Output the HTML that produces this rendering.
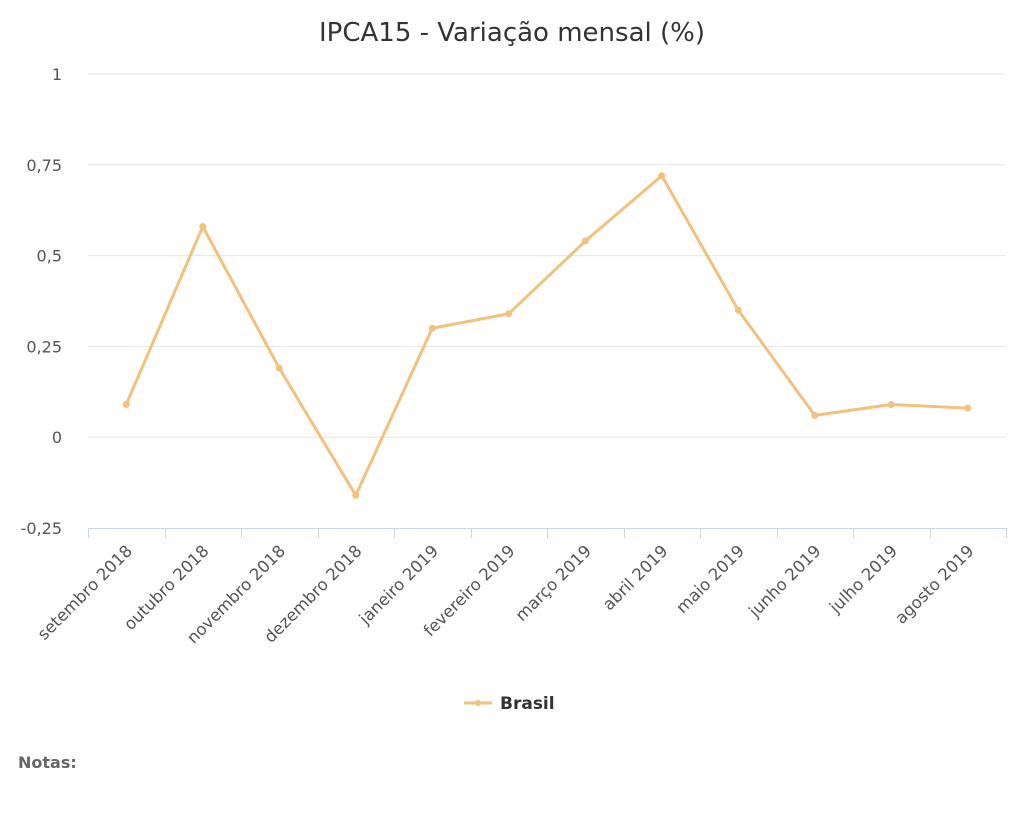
<!DOCTYPE html>
<html><head><meta charset="utf-8"><style>
body{margin:0;background:#fff;width:1024px;height:827px;overflow:hidden;font-family:"DejaVu Sans","Liberation Sans",sans-serif;}
</style></head><body>
<svg width="1024" height="827">
<text x="512" y="41" text-anchor="middle" font-size="26" fill="#333">IPCA15 - Variação mensal (%)</text>
<g id="grid"></g><g id="xaxis"></g><g id="series"></g>
<g>
<line x1="464" y1="703" x2="492" y2="703" stroke="#f1c27d" stroke-width="3"/>
<circle cx="478" cy="703" r="3" fill="#f1c27d"/>
<text x="500" y="709" font-size="17" font-weight="bold" fill="#333">Brasil</text>
</g>
<text x="18" y="768" font-size="16" font-weight="bold" fill="#666">Notas:</text>
</svg>
<script>
const categories=["setembro 2018","outubro 2018","novembro 2018","dezembro 2018","janeiro 2019","fevereiro 2019","março 2019","abril 2019","maio 2019","junho 2019","julho 2019","agosto 2019"];
const values=[0.09,0.58,0.19,-0.16,0.30,0.34,0.54,0.72,0.35,0.06,0.09,0.08];
const yTicks=[-0.25,0,0.25,0.5,0.75,1];
const yTickLabels=["-0,25","0","0,25","0,5","0,75","1"];
const NS="http://www.w3.org/2000/svg";
const x0=88,x1=1006,yTop=74,yBot=528,yMin=-0.25,yMax=1;
const y=v=>yBot-(v-yMin)/(yMax-yMin)*(yBot-yTop);
const bw=(x1-x0)/categories.length;
const x=i=>x0+bw*(i+0.5);
function mk(t,a,p){const e=document.createElementNS(NS,t);for(const k in a)e.setAttribute(k,a[k]);p.appendChild(e);return e;}
const g=document.getElementById('grid'),xa=document.getElementById('xaxis'),s=document.getElementById('series');
yTicks.forEach((v,i)=>{
 if(i>0){const l=mk('line',{x1:x0,x2:x1,y1:y(v),y2:y(v),stroke:'#e6e6e6','stroke-width':1},g);
 
 }
 const t=mk('text',{x:62,y:y(v)+6,'text-anchor':'end','font-size':16,fill:'#555'},g);t.textContent=yTickLabels[i];
 
 
});
const ax=mk('line',{x1:x0,x2:x1,y1:yBot+0.5,y2:yBot+0.5,stroke:'#ccd6eb'},xa);


for(let i=0;i<=categories.length;i++){const xx=Math.round(x0+bw*i)+0.5;mk('line',{x1:xx,x2:xx,y1:yBot,y2:yBot+10,stroke:'#ccd6eb'},xa);}
categories.forEach((c,i)=>{
 const tx=x(i)+7,ty=yBot+24;
 const t=mk('text',{x:tx,y:ty,'text-anchor':'end','font-size':16.5,fill:'#555',transform:`rotate(-45 ${tx} ${ty})`},xa);
 t.textContent=c;
 
 
});
const p=mk('polyline',{points:values.map((v,i)=>x(i)+','+y(v)).join(' '),fill:'none',stroke:'#f1c27d','stroke-width':3,'stroke-linejoin':'round'},s);


values.forEach((v,i)=>{const c=mk('circle',{cx:x(i),cy:y(v),r:3.5,fill:'#f1c27d'},s);
 
 });
</script>
</body></html>
